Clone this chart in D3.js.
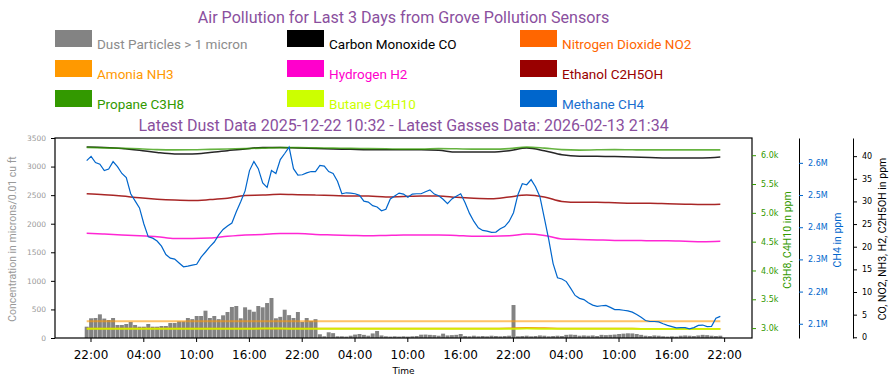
<!DOCTYPE html>
<html>
<head>
<meta charset="utf-8">
<script src="https://cdn.jsdelivr.net/npm/d3@7"></script>
<style>
  body { margin: 0; background: #fff; }
  svg { display: block; }
</style>
</head>
<body>
<svg id="chart" width="896" height="385"></svg>
<script>
// ---- data ----
const gasStartTime = "2026-02-10 21:34";   // first sample, 30 min steps for dust / methane
const xTickTimes = [
  "2026-02-10 22:00", "2026-02-11 04:00", "2026-02-11 10:00", "2026-02-11 16:00",
  "2026-02-11 22:00", "2026-02-12 04:00", "2026-02-12 10:00", "2026-02-12 16:00",
  "2026-02-12 22:00", "2026-02-13 04:00", "2026-02-13 10:00", "2026-02-13 16:00",
  "2026-02-13 22:00"
];

const legendNames = [
  "Dust Particles > 1 micron", "Amonia NH3", "Propane C3H8",
  "Carbon Monoxide CO", "Hydrogen H2", "Butane C4H10",
  "Nitrogen Dioxide NO2", "Ethanol C2H5OH", "Methane CH4"
];

// dust, particles / 0.01 cu ft, every 30 min
const dust = [
  198, 345, 350, 414, 340, 315, 350, 228, 228, 245,
  280, 228, 198, 198, 245, 198, 198, 210, 210, 262,
  262, 290, 290, 350, 330, 385, 385, 478, 350, 385,
  330, 397, 455, 543, 560, 345, 537, 495, 460, 560,
  537, 612, 700, 345, 370, 495, 400, 350, 455, 280,
  350, 300, 330, 65, 30, 100, 85, 30, 30, 25,
  40, 60, 70, 55, 40, 80, 123, 45, 30, 25,
  30, 25, 30, 25, 30, 35, 58, 60, 55, 50,
  40, 76, 45, 50, 55, 70, 35, 30, 40, 30,
  35, 30, 40, 35, 30, 35, 40, 577, 30, 35,
  40, 30, 35, 45, 40, 30, 35, 40, 35, 55,
  60, 55, 40, 45, 40, 45, 35, 55, 50, 55,
  60, 70, 76, 82, 80, 70, 55, 40, 35, 45,
  40, 30, 25, 30, 25, 40, 45, 40, 35, 45,
  55, 50, 40, 35, 40
];

// methane ppm, every 30 min
const methane = [
  2607000, 2620000, 2601000, 2596000, 2576000, 2581000, 2604000, 2588000, 2567000, 2554000,
  2504000, 2482000, 2460000, 2410000, 2370000, 2366000, 2357000, 2341000, 2315000, 2304000,
  2301000, 2289000, 2277000, 2279000, 2282000, 2285000, 2307000, 2323000, 2340000, 2354000,
  2376000, 2393000, 2404000, 2413000, 2448000, 2479000, 2513000, 2576000, 2604000, 2582000,
  2538000, 2524000, 2576000, 2567000, 2610000, 2629000, 2649000, 2582000, 2562000, 2563000,
  2569000, 2573000, 2573000, 2592000, 2590000, 2573000, 2567000, 2543000, 2504000, 2507000,
  2506000, 2504000, 2499000, 2481000, 2478000, 2467000, 2463000, 2451000, 2456000, 2488000,
  2497000, 2506000, 2503000, 2493000, 2503000, 2504000, 2504000, 2510000, 2516000, 2503000,
  2498000, 2487000, 2473000, 2488000, 2496000, 2504000, 2476000, 2443000, 2418000, 2398000,
  2390000, 2388000, 2384000, 2385000, 2395000, 2402000, 2418000, 2445000, 2501000, 2535000,
  2532000, 2548000, 2526000, 2495000, 2429000, 2362000, 2287000, 2243000, 2239000, 2231000,
  2210000, 2188000, 2179000, 2175000, 2165000, 2158000, 2154000, 2156000, 2157000, 2151000,
  2144000, 2144000, 2142000, 2140000, 2136000, 2129000, 2120000, 2110000, 2107000, 2107000,
  2106000, 2100000, 2095000, 2091000, 2087000, 2088000, 2088000, 2084000, 2088000, 2095000,
  2096000, 2091000, 2092000, 2117000, 2123000
];

// slow gases, every 2 hours
const co = [42.0, 41.9, 41.7, 41.3, 40.8, 40.5, 40.5, 40.8, 41.2, 41.6,
  41.9, 41.9, 41.8, 41.7, 41.6, 41.5, 41.4, 41.4, 41.4, 41.4,
  41.3, 40.9, 40.9, 40.9, 41.2, 41.8, 41.2, 40.3, 40.0, 40.0,
  39.9, 39.8, 39.7, 39.6, 39.6, 39.6, 39.8];
const ethanol = [31.7, 31.5, 31.2, 30.8, 30.5, 30.3, 30.2, 30.4, 30.7, 31.3,
  31.4, 31.6, 31.5, 31.4, 31.3, 31.2, 31.2, 31.0, 31.1, 31.2,
  31.2, 30.9, 30.7, 30.6, 31.0, 31.4, 31.0, 30.0, 29.8, 29.8,
  29.7, 29.6, 29.6, 29.5, 29.4, 29.3, 29.4];
const hydrogen = [23.0, 22.8, 22.6, 22.4, 22.2, 21.8, 21.8, 21.9, 22.3, 22.6,
  22.7, 22.9, 22.9, 22.7, 22.6, 22.5, 22.4, 22.5, 22.6, 22.6,
  22.6, 22.5, 22.3, 22.3, 22.4, 22.8, 22.5, 21.7, 21.6, 21.5,
  21.4, 21.4, 21.3, 21.3, 21.2, 21.1, 21.2];
const ammonia = [3.55, 3.55, 3.56, 3.56, 3.55, 3.55, 3.54, 3.55, 3.56, 3.56,
  3.55, 3.55, 3.55, 3.56, 3.56, 3.55, 3.55, 3.55, 3.54, 3.55,
  3.55, 3.56, 3.56, 3.55, 3.55, 3.56, 3.55, 3.55, 3.55, 3.54,
  3.55, 3.55, 3.55, 3.55, 3.56, 3.55, 3.55];
const no2 = [1.9, 1.9, 1.9, 1.9, 1.9, 1.9, 1.9, 1.9, 1.9, 1.9,
  1.9, 1.9, 1.9, 1.9, 1.9, 1.9, 1.9, 1.9, 1.9, 1.9,
  1.9, 1.9, 1.9, 1.9, 1.95, 2.05, 2.0, 1.9, 1.9, 1.9,
  1.9, 1.9, 1.85, 1.85, 1.85, 1.85, 1.85];
const propane = [6136, 6127, 6120, 6111, 6097, 6092, 6094, 6102, 6109, 6115,
  6123, 6132, 6132, 6127, 6123, 6118, 6115, 6111, 6106, 6106,
  6115, 6111, 6106, 6106, 6115, 6141, 6123, 6097, 6089, 6094,
  6097, 6094, 6092, 6092, 6092, 6092, 6092];
const butane = [2990, 2990, 2989, 2989, 2988, 2988, 2989, 2990, 2990, 2990,
  2991, 2991, 2990, 2990, 2990, 2989, 2989, 2989, 2988, 2988,
  2989, 2989, 2988, 2988, 2989, 2991, 2990, 2988, 2987, 2987,
  2987, 2987, 2986, 2986, 2986, 2986, 2986];

// ---- layout ----
const svg = d3.select("#chart");
const plotLeft = 55, plotRight = 752, plotTop = 138, plotBottom = 338;
const titleColor = "#8a4f9e";
const tickFont = "DejaVu Sans, sans-serif";
const textFont = "Roboto, sans-serif";

const colors = {
  dust: "#838383", co: "#000000", no2: "#ff6600", nh3: "#ff9900",
  h2: "#ff00cc", eth: "#990000", c3: "#339900", c4: "#ccff00", ch4: "#0066cc"
};
const legendColors = [colors.dust, colors.nh3, colors.c3, colors.co, colors.h2,
  colors.c4, colors.no2, colors.eth, colors.ch4];
const legendText = ["#8c8c8c", colors.nh3, colors.c3, colors.co, colors.h2,
  colors.c4, colors.no2, colors.eth, "#1a6fcf"];

const parseTime = d3.timeParse("%Y-%m-%d %H:%M");
const start = parseTime(gasStartTime);
const fastTimes = methane.map((d, i) => d3.timeMinute.offset(start, i * 30));
const slowTimes = co.map((d, i) => d3.timeHour.offset(start, i * 2));
const end = fastTimes[fastTimes.length - 1];

const pad = ([a, b]) => [a - (b - a) * 0.05, b + (b - a) * 0.05];

const xScale = d3.scaleTime()
  .domain(pad([+start, +end]).map(d => new Date(d)))
  .range([plotLeft, plotRight]);

const yDust = d3.scaleLinear().domain([0, 3500]).range([plotBottom, plotTop]);
const yBlack = d3.scaleLinear()
  .domain(pad(d3.extent([...co, ...no2, ...ammonia, ...hydrogen, ...ethanol])))
  .range([plotBottom, plotTop]);
const yGreen = d3.scaleLinear()
  .domain(pad(d3.extent([...propane, ...butane])))
  .range([plotBottom, plotTop]);
const yBlue = d3.scaleLinear()
  .domain(pad(d3.extent(methane)))
  .range([plotBottom, plotTop]);

// ---- titles ----
svg.append("text")
  .attr("x", (plotLeft + plotRight) / 2).attr("y", 22.5)
  .attr("text-anchor", "middle")
  .style("font-family", textFont).style("font-size", "16.1px")
  .attr("fill", titleColor)
  .text("Air Pollution for Last 3 Days from Grove Pollution Sensors");

svg.append("text")
  .attr("x", (plotLeft + plotRight) / 2).attr("y", 130.5)
  .attr("text-anchor", "middle")
  .style("font-family", textFont).style("font-size", "16px")
  .attr("fill", titleColor)
  .text("Latest Dust Data 2025-12-22 10:32 - Latest Gasses Data: 2026-02-13 21:34");

// ---- legend: 3 columns x 3 rows ----
const legendCols = [55, 287, 520];
const legend = svg.append("g");
legendNames.forEach((name, i) => {
  const cx = legendCols[Math.floor(i / 3)];
  const cy = 30 + (i % 3) * 30;
  legend.append("rect")
    .attr("x", cx).attr("y", cy)
    .attr("width", 37).attr("height", 17)
    .attr("fill", legendColors[i]);
  legend.append("text")
    .attr("x", cx + 42).attr("y", cy + 19)
    .style("font-family", textFont).style("font-size", "13.5px")
    .attr("fill", legendText[i])
    .text(name);
});

// ---- plot ----
svg.append("clipPath").attr("id", "plotClip")
  .append("rect")
  .attr("x", plotLeft).attr("y", plotTop)
  .attr("width", plotRight - plotLeft).attr("height", plotBottom - plotTop);

const plot = svg.append("g").attr("clip-path", "url(#plotClip)");

const step = xScale(fastTimes[1]) - xScale(fastTimes[0]);
plot.selectAll("rect.bar")
  .data(dust)
  .enter()
  .append("rect")
  .attr("class", "bar")
  .attr("x", (d, i) => xScale(fastTimes[i]) - step * 0.45)
  .attr("width", step * 0.9)
  .attr("y", d => yDust(d))
  .attr("height", d => yDust(0) - yDust(d))
  .attr("fill", colors.dust);

const slowLine = (scale) => d3.line()
  .x((d, i) => xScale(slowTimes[i]))
  .y(d => scale(d))
  .curve(d3.curveMonotoneX);

const gasLines = [
  { values: co, scale: yBlack, color: colors.co, w: 1.5, op: 0.85 },
  { values: no2, scale: yBlack, color: colors.no2, w: 1.8, op: 0.9 },
  { values: ammonia, scale: yBlack, color: colors.nh3, w: 2, op: 0.6 },
  { values: hydrogen, scale: yBlack, color: colors.h2, w: 1.5, op: 0.85 },
  { values: ethanol, scale: yBlack, color: colors.eth, w: 1.5, op: 0.85 },
  { values: propane, scale: yGreen, color: colors.c3, w: 1.6, op: 0.75 },
  { values: butane, scale: yGreen, color: colors.c4, w: 2, op: 0.85 }
];

gasLines.forEach(g => {
  plot.append("path")
    .datum(g.values)
    .attr("fill", "none")
    .attr("stroke", g.color)
    .attr("stroke-width", g.w)
    .attr("stroke-opacity", g.op)
    .attr("d", slowLine(g.scale));
});

plot.append("path")
  .datum(methane)
  .attr("fill", "none")
  .attr("stroke", colors.ch4)
  .attr("stroke-width", 1.2)
  .attr("d", d3.line()
    .x((d, i) => xScale(fastTimes[i]))
    .y(d => yBlue(d)));

// frame
svg.append("rect")
  .attr("x", plotLeft).attr("y", plotTop)
  .attr("width", plotRight - plotLeft).attr("height", plotBottom - plotTop)
  .attr("fill", "none").attr("stroke", "#000").attr("stroke-width", 1.2);

// ---- axes ----
const styleAxis = (g, size, color) => {
  g.selectAll("text")
    .style("font-family", tickFont)
    .style("font-size", size)
    .attr("fill", color);
};

const xAxis = svg.append("g")
  .attr("transform", `translate(0, ${plotBottom})`)
  .call(d3.axisBottom(xScale)
    .tickValues(xTickTimes.map(parseTime))
    .tickFormat(d3.timeFormat("%H:%M"))
    .tickSize(4).tickPadding(8));
xAxis.select(".domain").remove();
styleAxis(xAxis, "12px", "#000");

const leftAxis = svg.append("g")
  .attr("transform", `translate(${plotLeft}, 0)`)
  .call(d3.axisLeft(yDust).ticks(7).tickFormat(d3.format("d")).tickSize(4).tickPadding(5));
leftAxis.select(".domain").remove();
styleAxis(leftAxis, "7.5px", "#999");

const greenAxis = svg.append("g")
  .attr("transform", `translate(${plotRight}, 0)`)
  .call(d3.axisRight(yGreen).ticks(7).tickFormat(d3.format(".2s")).tickSize(4).tickPadding(5));
greenAxis.select(".domain").remove();
greenAxis.selectAll(".tick line").attr("stroke", colors.c3);
styleAxis(greenAxis, "8px", colors.c3);

const blueAxis = svg.append("g")
  .attr("transform", "translate(799, 0)")
  .call(d3.axisRight(yBlue).ticks(6).tickFormat(d3.format(".2s")).tickSize(4).tickSizeOuter(0).tickPadding(5));
blueAxis.selectAll(".tick line").attr("stroke", colors.ch4);
styleAxis(blueAxis, "8px", colors.ch4);

const blackAxis = svg.append("g")
  .attr("transform", "translate(853, 0)")
  .call(d3.axisRight(yBlack).ticks(9).tickSize(4).tickSizeOuter(0).tickPadding(5));
styleAxis(blackAxis, "8px", "#000");

// ---- axis titles ----
const axisTitle = (x, y, text, color, size) => {
  svg.append("text")
    .attr("transform", `translate(${x}, ${y}) rotate(-90)`)
    .attr("text-anchor", "middle")
    .style("font-family", textFont).style("font-size", size)
    .attr("fill", color)
    .text(text);
};
axisTitle(16, 239, "Concentration in microns/0.01 cu ft", "#999", "10.5px");
axisTitle(791, 240, "C3H8, C4H10 in ppm", colors.c3, "10.5px");
axisTitle(841, 240, "CH4 in ppm", colors.ch4, "10.5px");
axisTitle(886, 239, "CO, NO2, NH3, H2, C2H5OH in ppm", "#000", "10.5px");

svg.append("text")
  .attr("x", (plotLeft + plotRight) / 2).attr("y", 373.5)
  .attr("text-anchor", "middle")
  .style("font-family", tickFont).style("font-size", "9px")
  .attr("fill", "#000")
  .text("Time");
</script>
</body>
</html>
